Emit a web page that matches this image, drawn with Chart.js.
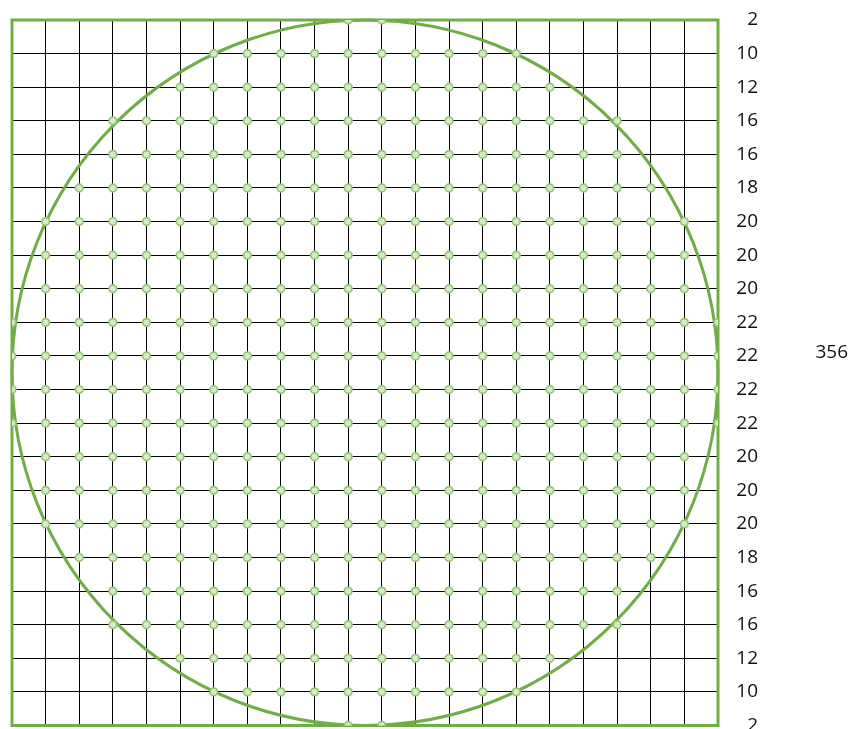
<!DOCTYPE html>
<html>
<head>
<meta charset="utf-8">
<script src="https://cdn.jsdelivr.net/npm/chart.js@4"></script>
<style>
  html, body { margin: 0; padding: 0; background: #fff; }
</style>
</head>
<body>
<canvas id="gridChart" width="850" height="729"></canvas>
<script>
// points counted on each grid line (right-hand labels), top to bottom
const rowCounts = [2, 10, 12, 16, 16, 18, 20, 20, 20, 22, 22, 22, 22, 20, 20, 20, 18, 16, 16, 12, 10, 2];
const totalLabel = '356';

// which grid intersections carry a marker, one string per grid line ('o' = marker)
const rowMask = [
  '..........oo..........',
  '......oooooooooo......',
  '.....oooooooooooo.....',
  '...oooooooooooooooo...',
  '...oooooooooooooooo...',
  '..oooooooooooooooooo..',
  '.oooooooooooooooooooo.',
  '.oooooooooooooooooooo.',
  '.oooooooooooooooooooo.',
  'oooooooooooooooooooooo',
  'oooooooooooooooooooooo',
  'oooooooooooooooooooooo',
  'oooooooooooooooooooooo',
  '.oooooooooooooooooooo.',
  '.oooooooooooooooooooo.',
  '.oooooooooooooooooooo.',
  '..oooooooooooooooooo..',
  '...oooooooooooooooo...',
  '...oooooooooooooooo...',
  '.....oooooooooooo.....',
  '......oooooooooo......',
  '..........oo..........'
];

const gridMax = 21;
const circleCenter = { x: 10.5, y: 10.5 };
const circleRadius = 10.5;

const points = [];
rowMask.forEach((row, y) => {
  row.split('').forEach((c, x) => {
    if (c === 'o') points.push({ x: x, y: y });
  });
});

const green = '#70ad47';
const labelFont = { family: 'Open Sans', size: 19 };

const circleOutline = {
  id: 'circleOutline',
  beforeDatasetsDraw(chart) {
    const { ctx, chartArea, scales } = chart;
    const cx = scales.x.getPixelForValue(circleCenter.x);
    const cy = scales.y.getPixelForValue(circleCenter.y);
    const rx = Math.abs(scales.x.getPixelForValue(circleCenter.x + circleRadius) - cx);
    const ry = Math.abs(scales.y.getPixelForValue(circleCenter.y + circleRadius) - cy);
    ctx.save();
    ctx.strokeStyle = green;
    ctx.lineWidth = 3;
    ctx.strokeRect(chartArea.left, chartArea.top, chartArea.width, chartArea.height);
    ctx.beginPath();
    ctx.ellipse(cx, cy, rx, ry, 0, 0, Math.PI * 2);
    ctx.stroke();
    ctx.restore();
  },
  afterDraw(chart) {
    const { ctx, scales } = chart;
    ctx.save();
    ctx.font = labelFont.size + 'px ' + labelFont.family;
    ctx.fillStyle = '#111';
    ctx.textAlign = 'right';
    ctx.textBaseline = 'middle';
    ctx.fillText(totalLabel, chart.width - 2, scales.y.getPixelForValue(9.9));
    ctx.restore();
  }
};

new Chart(document.getElementById('gridChart'), {
  type: 'scatter',
  data: {
    datasets: [{
      data: points,
      pointStyle: 'circle',
      pointRadius: 3.8,
      pointBackgroundColor: '#d6eac8',
      pointBorderColor: '#93c771',
      pointBorderWidth: 1.7
    }, {
      // hatch inside each marker
      data: points,
      pointStyle: 'crossRot',
      pointRadius: 2,
      pointBorderColor: '#ffffff',
      pointBorderWidth: 1
    }]
  },
  options: {
    responsive: false,
    animation: false,
    devicePixelRatio: 1,
    layout: { autoPadding: false, padding: { left: 12, top: 20, right: 92, bottom: 3.5 } },
    plugins: {
      legend: { display: false },
      tooltip: { enabled: false }
    },
    scales: {
      x: {
        type: 'linear',
        min: 0,
        max: gridMax,
        border: { display: false },
        grid: { color: '#000', lineWidth: 1, drawTicks: false },
        ticks: { display: false, stepSize: 1, autoSkip: false },
        afterFit: (scale) => { scale.height = 0; }
      },
      y: {
        type: 'linear',
        position: 'right',
        reverse: true,
        min: 0,
        max: gridMax,
        border: { display: false },
        grid: { color: '#000', lineWidth: 1, drawTicks: false },
        ticks: {
          stepSize: 1,
          autoSkip: false,
          padding: 0,
          crossAlign: 'far',
          color: '#111',
          font: labelFont,
          callback: (value) => rowCounts[value]
        },
        afterFit: (scale) => {
          scale.width = 40;
          scale.paddingTop = 0;
          scale.paddingBottom = 0;
        }
      }
    }
  },
  plugins: [circleOutline]
});
</script>
</body>
</html>
